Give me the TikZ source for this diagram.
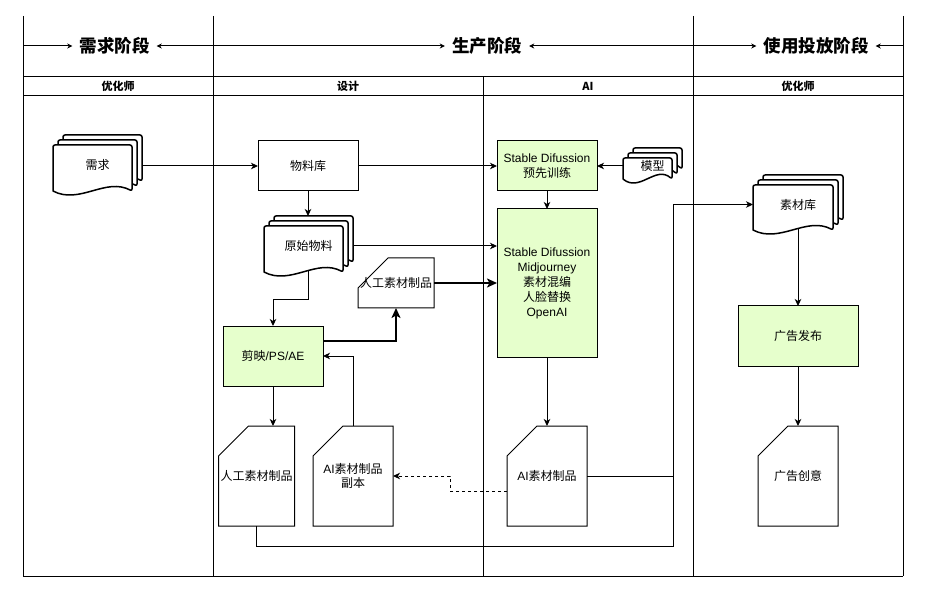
\documentclass[tikz,border=0pt]{standalone}
\usepackage{fontspec}
\setmainfont{Liberation Sans}
\newfontfamily\cjk{Noto Sans CJK SC}
\usetikzlibrary{arrows.meta,positioning,calc,backgrounds}

\definecolor{verde}{HTML}{E6FFCC}

\tikzset{
	block/.style = {
		draw, 
		rectangle, 
		line width=1pt, 
		minimum width=100pt, 
		minimum height=50pt, 
		inner sep=0pt, 
		outer sep=0pt, 
		align=center, 
		font=\fontsize{12}{15}\selectfont
	},
	greenblock/.style = {
		block, 
		fill=verde
	},
	card/.style = {
		rectangle, 
		minimum width=80pt, 
		minimum height=100pt, 
		inner sep=0pt, 
		outer sep=0pt, 
		align=center, 
		font=\fontsize{12}{14}\selectfont
	},
	docs/.style = {
		rectangle, 
		inner sep=0pt, 
		outer sep=0pt, 
		align=center, 
		font=\fontsize{12}{14}\selectfont
	},
	docline/.style = {
		line width=1.5pt, 
		fill=white, 
		line join=round
	},
	signal/.style = {
		->, 
		>={Stealth[length=7pt, width=6.5pt, inset=2pt]}, 
		line width=1pt
	},
	thicksignal/.style = {
		->, 
		>={Stealth[length=10pt, width=9pt, inset=2.5pt]}, 
		line width=2pt
	},
	phasearrow/.style = {
		->, 
		>={Stealth[length=5pt, width=5pt, inset=1.5pt]}, 
		line width=1pt
	},
	phase/.style = {
		inner xsep=7pt, 
		font=\cjk\bfseries\fontsize{17.5}{20}\selectfont
	},
	lanelabel/.style = {
		font=\cjk\bfseries\fontsize{11}{13}\selectfont
	},
	lane/.style = {
		line width=1pt
	}
}

% tarjeta con la esquina cortada
\newcommand{\cardline}[1]{%
	\draw[line width=1pt] ($(#1.north west)+(30pt,0)$) -- (#1.north east) -- (#1.south east) 
	-- (#1.south west) -- ($(#1.north west)+(0,-30pt)$) -- cycle;}

% pila de documentos (nombre, ancho, alto)
\newcommand{\docstack}[3]{%
	\pgfmathsetmacro{\dw}{#2-10}%
	\pgfmathsetmacro{\dh}{#3-10}%
	\begin{pgfonlayer}{background}
		\foreach \dx/\dy in {10pt/0pt, 5pt/-5pt, 0pt/-10pt}{
			\draw[docline, shift={($(#1.north west)+(\dx,\dy)$)}]
			(0,\dh-4) [rounded corners=2pt] -- (0,0) -- (\dw,0) -- (\dw,\dh-4) [sharp corners]
			.. controls (2*\dw/3,\dh-18) and (\dw/3,\dh+10) .. cycle;
		}
	\end{pgfonlayer}}

\begin{document}
\begin{tikzpicture}[x=1pt, y=-1pt]
	
	\useasboundingbox (0,0) rectangle (928,593);
	
	% --- Carriles ---
	\foreach \x in {23,213,693,903}
		\draw[lane] (\x,16) -- (\x,576);
	\draw[lane] (483,76.5) -- (483,576);
	\foreach \y in {76.5,96,576}
		\draw[lane] (23,\y) -- (903,\y);
	
	% Cabeceras de los carriles
	\node[lanelabel] (lane1) at (118,86) {优化师};
	\node[lanelabel] (lane2) at (348,86) {设计};
	\node[lanelabel] (lane3) at (588,86) {AI};
	\node[lanelabel] (lane4) at (798,86) {优化师};
	
	% --- Fases ---
	\coordinate (b0) at (23,46);
	\coordinate (b1) at (213,46);
	\coordinate (b2) at (693,46);
	\coordinate (b3) at (903,46);
	
	\node[phase] (fase1) at (114.5,46) {需求阶段};
	\node[phase] (fase2) at (487,46) {生产阶段};
	\node[phase] (fase3) at (816,46) {使用投放阶段};
	
	\draw[phasearrow] (b0) -- (fase1.west);
	\draw[phasearrow] (b1) -- (fase1.east);
	\draw[phasearrow] (b1) -- (fase2.west);
	\draw[phasearrow] (b2) -- (fase2.east);
	\draw[phasearrow] (b2) -- (fase3.west);
	\draw[phasearrow] (b3) -- (fase3.east);
	
	% --- NODOS ---
	\node[docs, minimum width=89pt, minimum height=60pt] (xuqiu) at (97.5,165) {{\cjk 需求}};
	\docstack{xuqiu}{89}{60}
	
	\node[block] (wuliaoku) at (308,166) {{\cjk 物料库}};
	
	\node[docs, minimum width=89pt, minimum height=60pt] (yuanshi) at (308.5,246) {{\cjk 原始物料}};
	\docstack{yuanshi}{89}{60}
	
	\node[greenblock] (sdpre) at (547,166) {Stable Difussion\\{\cjk 预先训练}};
	
	\node[docs, minimum width=59pt, minimum height=35pt] (moxing) at (652.5,165.5) {{\cjk 模型}};
	\docstack{moxing}{59}{35}
	
	\node[greenblock, minimum height=148pt] (aitools) at (547,283)
		{Stable Difussion\\Midjourney\\{\cjk 素材混编}\\{\cjk 人脸替换}\\OpenAI};
	
	\node[card, minimum width=76pt, minimum height=50pt] (rengong1) at (396,283) {{\cjk 人工素材制品}};
	\cardline{rengong1}
	
	\node[greenblock, minimum height=60pt] (jianying) at (273,356) {{\cjk 剪映}/PS/AE};
	
	\node[card, minimum width=76pt] (rengong2) at (256.5,476) {{\cjk 人工素材制品}};
	\cardline{rengong2}
	
	\node[card] (aifuben) at (353,476) {AI{\cjk 素材制品}\\{\cjk 副本}};
	\cardline{aifuben}
	
	\node[card] (aizhipin) at (547,476) {AI{\cjk 素材制品}};
	\cardline{aizhipin}
	
	\node[docs, minimum width=90pt, minimum height=59pt] (sucaiku) at (798,204.5) {{\cjk 素材库}};
	\docstack{sucaiku}{90}{59}
	
	\node[greenblock, minimum width=120pt, minimum height=60pt] (fabu) at (798,336) {{\cjk 广告发布}};
	
	\node[card] (chuangyi) at (798,476) {{\cjk 广告创意}};
	\cardline{chuangyi}
	
	\coordinate (merge) at (673,546);
	
	% --- CONEXIONES ---
	\draw[signal] (xuqiu.east |- wuliaoku) -- (wuliaoku);
	\draw[signal] (wuliaoku) -- (sdpre);
	\draw[signal] (moxing.west |- sdpre) -- (sdpre.east);
	\draw[signal] (sdpre) -- (aitools);
	\draw[signal] (wuliaoku.south) -- (wuliaoku.south |- yuanshi.north);
	\draw[signal] (yuanshi.east) -- (yuanshi.east -| aitools.west);
	\draw[thicksignal] (rengong1.east) -- (rengong1.east -| aitools.west);
	\draw[signal] ($(yuanshi.south)+(0,5pt)$) -- ++(0,29) -| (jianying.north);
	\draw[thicksignal] ($(jianying.east)+(0,15pt)$) -| (rengong1.south);
	\draw[signal] (aifuben.north) |- (jianying.east);
	\draw[signal] (jianying.south) -- (jianying.south |- rengong2.north);
	\draw[signal] (aitools) -- (aizhipin);
	\draw[signal, dash pattern=on 3pt off 3pt] ($(aizhipin.west)+(0,-15pt)$) -- ++(-57,0) |- (aifuben.east);
	\draw[signal] (aizhipin.east) -| (merge |- sucaiku.west) -- (sucaiku.west);
	\draw[line width=1pt] (rengong2.south) |- (merge) -- (merge |- aizhipin.east);
	\draw[signal] ($(sucaiku.south)+(0,5pt)$) -- (fabu.north);
	\draw[signal] (fabu) -- (chuangyi);
	
\end{tikzpicture}
\end{document}
